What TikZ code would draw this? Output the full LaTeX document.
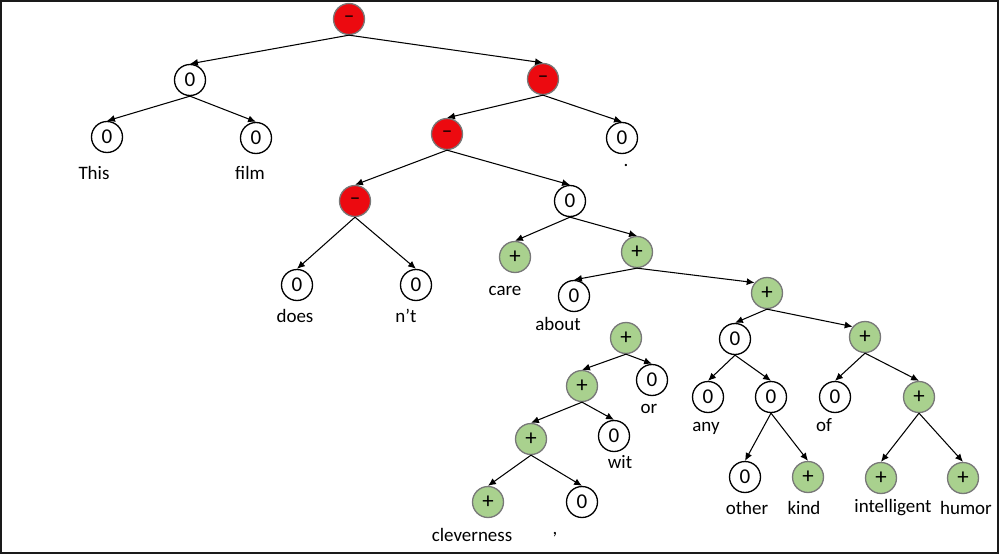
\documentclass[tikz,border=0pt]{standalone}
\usepackage{fontspec}
\setmainfont{Carlito}
\usetikzlibrary{arrows.meta}
\definecolor{negred}{RGB}{236,10,16}
\definecolor{posgreen}{RGB}{169,209,142}
\definecolor{rimgrey}{RGB}{120,120,120}
\definecolor{framegrey}{RGB}{26,26,26}
\tikzset{
  tnode/.style={circle,inner sep=0pt,minimum size=0.62cm,line width=0.75pt,
    font=\fontsize{12pt}{14pt}\selectfont},
  zeronode/.style={tnode,draw=black,fill=white},
  negnode/.style={tnode,draw=rimgrey,fill=negred},
  posnode/.style={tnode,draw=rimgrey,fill=posgreen,font=\fontsize{13pt}{15pt}\selectfont},
  word/.style={inner sep=0pt,font=\fontsize{10.8pt}{13pt}\selectfont},
  arr/.style={line width=0.6pt,-{Latex[length=4.5pt,width=4pt]}}
}
\begin{document}
\begin{tikzpicture}[x=0.02cm,y=-0.02cm]
\useasboundingbox (0,0) rectangle (1000,555);
\draw[framegrey,line width=1.1pt] (1,1) rectangle (997.7,553.2);

% sentiment tree nodes
\node[negnode]  (root)   at (349,19)  {\textendash};
\node[zeronode] (n0)     at (190,80)  {0};
\node[zeronode] (this0)  at (107,137) {0};
\node[zeronode] (film0)  at (256,138) {0};
\node[negnode]  (r2)     at (543,79)  {\textendash};
\node[negnode]  (r3)     at (447,134) {\textendash};
\node[zeronode] (dot0)   at (622,138) {0};
\node[negnode]  (r4)     at (355,201) {\textendash};
\node[zeronode] (n1)     at (570,201) {0};
\node[zeronode] (does0)  at (297,285) {0};
\node[zeronode] (nt0)    at (416,285) {0};
\node[posnode]  (care)   at (515,257) {+};
\node[posnode]  (p1)     at (637,252) {+};
\node[zeronode] (about0) at (574,296) {0};
\node[posnode]  (p2)     at (767,293) {+};
\node[posnode]  (p3)     at (626,338) {+};
\node[zeronode] (or0)    at (652,380) {0};
\node[posnode]  (p4)     at (582,386) {+};
\node[zeronode] (wit0)   at (614,436) {0};
\node[posnode]  (p5)     at (531,439) {+};
\node[posnode]  (clev)   at (488,502) {+};
\node[zeronode] (comma0) at (582,502) {0};
\node[zeronode] (z1)     at (735,339) {0};
\node[posnode]  (p6)     at (865,337) {+};
\node[zeronode] (any0)   at (708,397) {0};
\node[zeronode] (z2)     at (771,397) {0};
\node[zeronode] (of0)    at (835,397) {0};
\node[posnode]  (p7)     at (919,397) {+};
\node[zeronode] (other0) at (745,477) {0};
\node[posnode]  (kind)   at (808,477) {+};
\node[posnode]  (intel)  at (881,478) {+};
\node[posnode]  (humor)  at (963,478) {+};

% words under the leaves
\node[word] (wThis)  at (94,173)  {This};
\node[word] (wfilm)  at (250,173) {film};
\node[word,anchor=base] (wdot) at (626,166) {.};
\node[word] (wdoes)  at (295,316) {does};
\node[word] (wnt)    at (406,316) {n’t};
\node[word] (wcare)  at (505,291) {care};
\node[word] (wabout) at (558,324) {about};
\node[word] (wor)    at (649,409) {or};
\node[word] (wwit)   at (620,462) {wit};
\node[word] (wclev)  at (472,535) {cleverness};
\node[word] (wcomma) at (555,535) {,};
\node[word] (wany)   at (706,428) {any};
\node[word] (wof)    at (824,425) {of};
\node[word] (wother) at (747,508) {other};
\node[word] (wkind)  at (804,508) {kind};
\node[word] (wintel) at (893,508) {intelligent};
\node[word] (whumor) at (966,508) {humor};

% parent -> child edges
\draw[arr] (root.south) -- (n0.north);
\draw[arr] (root.south) -- (r2.north);
\draw[arr] (n0.south) -- (this0.north);
\draw[arr] (n0.south) -- (film0.north);
\draw[arr] (r2.south) -- (r3.north);
\draw[arr] (r2.south) -- (dot0.north);
\draw[arr] (r3.south) -- (r4.north);
\draw[arr] (r3.south) -- (n1.north);
\draw[arr] (r4.south) -- (does0.north);
\draw[arr] (r4.south) -- (nt0.north);
\draw[arr] (n1.south) -- (care.north);
\draw[arr] (n1.south) -- (p1.north);
\draw[arr] (p1.south) -- (about0.north);
\draw[arr] (p1.south) -- (p2.140);
\draw[arr] (p2.south) -- (z1.north);
\draw[arr] (p2.south) -- (p6.140);
\draw[arr] (p3.south) -- (p4.north);
\draw[arr] (p3.south) -- (or0.north);
\draw[arr] (p4.south) -- (p5.north);
\draw[arr] (p4.south) -- (wit0.north);
\draw[arr] (p5.south) -- (clev.north);
\draw[arr] (p5.south) -- (comma0.north);
\draw[arr] (z1.south) -- (any0.north);
\draw[arr] (z1.south) -- (z2.north);
\draw[arr] (z2.south) -- (other0.north);
\draw[arr] (z2.south) -- (kind.north);
\draw[arr] (p6.south) -- (of0.north);
\draw[arr] (p6.south) -- (p7.north);
\draw[arr] (p7.south) -- (intel.north);
\draw[arr] (p7.south) -- (humor.north);
\end{tikzpicture}
\end{document}
